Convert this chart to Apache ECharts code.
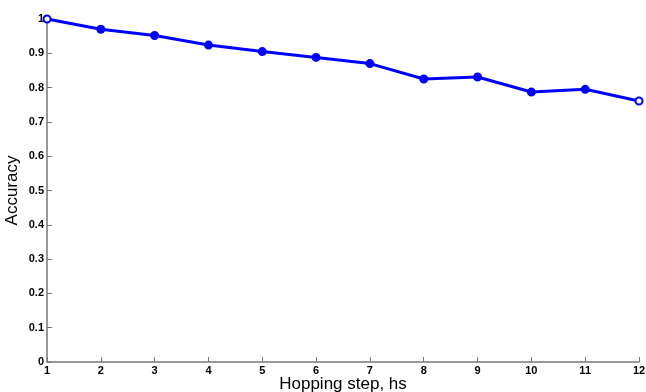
<!DOCTYPE html>
<html><head><meta charset="utf-8">
<script src="https://cdn.jsdelivr.net/npm/echarts@6/dist/echarts.min.js"></script>
<style>html,body{margin:0;padding:0;background:#fff}#c{width:646px;height:392px}</style>
</head><body><div id="c"></div>
<script>
const steps = [1,2,3,4,5,6,7,8,9,10,11,12];
const accuracy = [1.0,0.970,0.952,0.924,0.905,0.888,0.870,0.825,0.831,0.787,0.795,0.761];
const hollowSteps = [1,12];
const xName = 'Hopping step, hs';
const yName = 'Accuracy';

const chart = echarts.init(document.getElementById('c'));
const data = steps.map((s,i)=>({
  value:[s, accuracy[i]],
  symbol: hollowSteps.includes(s) ? 'emptyCircle' : 'circle'
}));
chart.setOption({
  animation:false,
  grid:{left:47,right:7,top:19,bottom:30,containLabel:false,outerBoundsMode:'none'},
  xAxis:{
    type:'value',min:1,max:12,interval:1,
    name:xName,nameLocation:'middle',nameGap:14,nameMoveOverlap:false,
    nameTextStyle:{fontFamily:'Liberation Sans',fontSize:17,color:'#000'},
    axisLine:{lineStyle:{color:'#777',width:1.5}},
    axisTick:{inside:true,length:5,lineStyle:{color:'#777'}},
    axisLabel:{margin:3,fontFamily:'Liberation Sans',fontSize:11,color:'#000',fontWeight:'bold'},
    splitLine:{show:false}
  },
  yAxis:{
    type:'value',min:0,max:1,interval:0.1,
    name:yName,nameLocation:'middle',nameGap:26,nameMoveOverlap:false,
    nameTextStyle:{fontFamily:'Liberation Sans',fontSize:17,color:'#000'},
    axisLine:{show:true,lineStyle:{color:'#777',width:1.5}},
    axisTick:{show:true,inside:true,length:5,lineStyle:{color:'#777'}},
    axisLabel:{margin:3,fontFamily:'Liberation Sans',fontSize:11,color:'#000',fontWeight:'bold',
      formatter:v=>String(Math.round(v*10)/10)},
    splitLine:{show:false}
  },
  series:[{
    type:'line',data:data,
    symbolSize:7,
    lineStyle:{color:'#0000ff',width:3},
    itemStyle:{color:'#0000ff',borderColor:'#0000ff',borderWidth:2},
    clip:false
  }]
});
</script></body></html>
